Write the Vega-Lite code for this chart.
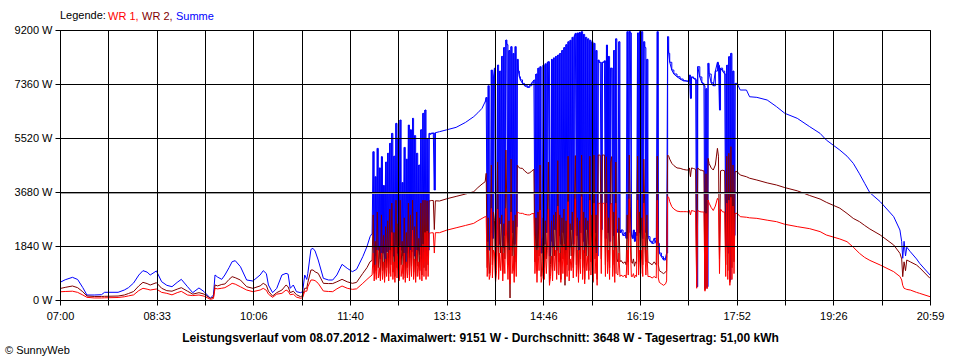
{
  "$schema": "https://vega.github.io/schema/vega-lite/v6.json",
  "width": 870,
  "height": 270,
  "autosize": "none",
  "padding": {"left": 60, "top": 30, "right": 30, "bottom": 60},
  "background": "white",
  "config": {
    "view": {"stroke": "black", "strokeWidth": 1},
    "font": "Liberation Sans"
  },
  "title": {"text": "© SunnyWeb", "orient": "bottom", "anchor": "start", "frame": "group", "dx": -55, "offset": 2, "fontSize": 11, "fontWeight": "normal", "color": "black", "font": "Liberation Sans"},
  "data": {"values": [
    {"t":0,"s":600,"b":390,"a":280},{"t":5,"s":690,"b":430,"a":290},{"t":12,"s":773,"b":477,"a":300},{"t":17,"s":700,"b":420,"a":260},{"t":22,"s":420,"b":280,"a":170},{"t":26,"s":170,"b":136,"a":91},{"t":33,"s":170,"b":120,"a":70},{"t":40,"s":180,"b":120,"a":70},{"t":43,"s":262,"b":125,"a":75},{"t":56,"s":262,"b":135,"a":85},{"t":62,"s":340,"b":170,"a":110},{"t":66,"s":420,"b":220,"a":140},{"t":71,"s":580,"b":290,"a":175},{"t":76,"s":850,"b":480,"a":320},{"t":80,"s":1000,"b":602,"a":398},{"t":84,"s":950,"b":560,"a":370},{"t":87,"s":852,"b":511,"a":340},{"t":93,"s":990,"b":590,"a":375},{"t":98,"s":624,"b":400,"a":260},{"t":103,"s":500,"b":318,"a":227},{"t":108,"s":453,"b":300,"a":175},{"t":113,"s":600,"b":370,"a":250},{"t":117,"s":704,"b":420,"a":295},{"t":123,"s":453,"b":300,"a":170},{"t":128,"s":250,"b":200,"a":150},{"t":134,"s":410,"b":250,"a":170},{"t":139,"s":284,"b":200,"a":130},{"t":145,"s":60,"b":57,"a":23},{"t":148,"s":170,"b":100,"a":50},{"t":149.5,"s":852,"b":511,"a":397},{"t":152,"s":780,"b":480,"a":380},{"t":156,"s":704,"b":530,"a":400},{"t":159,"s":852,"b":545,"a":420},{"t":163,"s":1100,"b":700,"a":500},{"t":166,"s":1306,"b":795,"a":568},{"t":169,"s":1340,"b":760,"a":540},{"t":174,"s":1136,"b":680,"a":450},{"t":180,"s":681,"b":454,"a":340},{"t":186,"s":647,"b":397,"a":284},{"t":193,"s":852,"b":480,"a":340},{"t":196,"s":999,"b":568,"a":397},{"t":199,"s":900,"b":500,"a":330},{"t":201,"s":511,"b":300,"a":200},{"t":205,"s":250,"b":136,"a":91},{"t":209,"s":397,"b":250,"a":200},{"t":214,"s":852,"b":340,"a":227},{"t":218,"s":908,"b":511,"a":340},{"t":220,"s":880,"b":450,"a":300},{"t":222,"s":397,"b":250,"a":180},{"t":225,"s":511,"b":300,"a":200},{"t":228,"s":284,"b":180,"a":100},{"t":232,"s":250,"b":113,"a":57},{"t":234,"s":284,"b":150,"a":80},{"t":236,"s":852,"b":400,"a":300},{"t":238,"s":700,"b":400,"a":300},{"t":239,"s":908,"b":600,"a":450},{"t":242,"s":1726,"b":1022,"a":681},{"t":244,"s":1760,"b":1022,"a":681},{"t":246,"s":1669,"b":960,"a":660},{"t":249,"s":1363,"b":908,"a":568},{"t":254,"s":738,"b":568,"a":306},{"t":259,"s":681,"b":560,"a":290},{"t":263,"s":681,"b":560,"a":284},{"t":267,"s":852,"b":620,"a":380},{"t":272,"s":1215,"b":704,"a":477},{"t":277,"s":1079,"b":620,"a":400},{"t":282,"s":965,"b":568,"a":363},{"t":286,"s":1045,"b":600,"a":380},{"t":292,"s":1476,"b":908,"a":568},{"t":296,"s":1817,"b":1100,"a":700},{"t":299,"s":2158,"b":1306,"a":795},{"t":301,"s":2271,"b":1350,"a":850},
    {"t":302,"s":5053,"b":2900,"a":1600},{"t":303,"s":1136,"b":900,"a":650},{"t":304,"s":4200,"b":2000,"a":1200},{"t":305,"s":1500,"b":1000,"a":700},{"t":306,"s":5167,"b":3000,"a":1700},{"t":307,"s":1700,"b":1100,"a":750},{"t":308,"s":4500,"b":1800,"a":1100},{"t":309,"s":1400,"b":800,"a":650},{"t":310,"s":4883,"b":2900,"a":1600},{"t":311,"s":1600,"b":1000,"a":700},{"t":312,"s":3900,"b":2200,"a":1300},{"t":313,"s":1300,"b":750,"a":600},{"t":314,"s":4700,"b":2500,"a":1400},{"t":315,"s":1650,"b":1100,"a":800},{"t":316,"s":5000,"b":2700,"a":1600},{"t":317,"s":1450,"b":900,"a":650},{"t":318,"s":5337,"b":3100,"a":1700},{"t":319,"s":1700,"b":1200,"a":800},{"t":320,"s":5678,"b":3300,"a":2300},{"t":321,"s":1500,"b":950,"a":700},{"t":322,"s":4900,"b":2300,"a":1300},{"t":323,"s":1350,"b":800,"a":600},{"t":324,"s":6019,"b":3400,"a":1850},{"t":325,"s":1600,"b":1100,"a":750},{"t":326,"s":5500,"b":2600,"a":1500},{"t":327,"s":1400,"b":700,"a":650},{"t":328,"s":6133,"b":3400,"a":1850},{"t":329,"s":1700,"b":1200,"a":800},{"t":330,"s":4000,"b":2000,"a":1200},{"t":331,"s":1500,"b":900,"a":700},{"t":332,"s":5200,"b":2800,"a":1600},{"t":333,"s":1250,"b":750,"a":600},{"t":334,"s":4800,"b":2300,"a":1300},{"t":335,"s":1600,"b":1100,"a":750},{"t":336,"s":5962,"b":3300,"a":1800},{"t":337,"s":1450,"b":850,"a":650},{"t":338,"s":5800,"b":2900,"a":1700},{"t":339,"s":1650,"b":1150,"a":800},{"t":340,"s":6190,"b":3400,"a":2380},{"t":341,"s":1500,"b":950,"a":700},{"t":342,"s":5600,"b":2500,"a":1400},{"t":343,"s":1350,"b":800,"a":600},{"t":344,"s":5000,"b":3000,"a":1700},{"t":345,"s":1700,"b":1150,"a":800},{"t":346,"s":4600,"b":2100,"a":1300},{"t":347,"s":1550,"b":1000,"a":700},{"t":348,"s":5800,"b":3300,"a":1800},{"t":349,"s":1400,"b":850,"a":650},{"t":350,"s":6360,"b":3400,"a":1900},{"t":351,"s":1650,"b":1100,"a":800},{"t":352,"s":6474,"b":3400,"a":2300},{"t":353,"s":1500,"b":1000,"a":700},{"t":354,"s":5500,"b":3380,"a":2350},{"t":355,"s":1700,"b":1200,"a":800},{"t":356,"s":5678,"b":3380,"a":2280},{"t":357,"s":5650,"b":3380,"a":2280},{"t":358,"s":5678,"b":3390,"a":2290},{"t":360,"s":5690,"b":3390,"a":2290},{"t":361,"s":3748,"b":2400,"a":1600},{"t":362,"s":5700,"b":3380,"a":2294},
    {"t":366,"s":5735,"b":3373,"a":2294},{"t":373,"s":5800,"b":3450,"a":2380},{"t":382,"s":5883,"b":3530,"a":2460},{"t":391,"s":6050,"b":3610,"a":2540},{"t":399,"s":6247,"b":3690,"a":2612},{"t":403,"s":6380,"b":3830,"a":2700},{"t":407,"s":6531,"b":3950,"a":2780},{"t":410,"s":6757,"b":4031,"a":2839},
    {"t":411,"s":6900,"b":4316,"a":2839},{"t":412,"s":2000,"b":1100,"a":800},{"t":413,"s":7300,"b":2800,"a":1700},{"t":414,"s":1700,"b":900,"a":700},{"t":415,"s":2300,"b":1300,"a":900},{"t":416,"s":7836,"b":4600,"a":3120},{"t":417,"s":2100,"b":1200,"a":750},{"t":418,"s":7600,"b":3000,"a":1700},{"t":419,"s":7900,"b":2700,"a":1600},{"t":420,"s":1500,"b":700,"a":600},{"t":421,"s":2400,"b":1500,"a":1000},{"t":422,"s":8007,"b":4700,"a":3100},{"t":423,"s":1900,"b":1100,"a":700},{"t":424,"s":7800,"b":2800,"a":1600},{"t":425,"s":2600,"b":1600,"a":1000},{"t":426,"s":8300,"b":2900,"a":1800},{"t":427,"s":1800,"b":900,"a":650},{"t":428,"s":8600,"b":2600,"a":1600},{"t":429,"s":2200,"b":1400,"a":900},{"t":430,"s":8858,"b":5110,"a":3120},{"t":431,"s":8700,"b":3000,"a":1700},{"t":432,"s":2000,"b":1200,"a":700},{"t":433,"s":8500,"b":2700,"a":1700},{"t":434,"s":1700,"b":68,"a":550},{"t":435,"s":8632,"b":4800,"a":3000},{"t":436,"s":2300,"b":1500,"a":900},{"t":437,"s":8400,"b":2700,"a":1500},{"t":438,"s":1900,"b":1000,"a":600},{"t":439,"s":8632,"b":2900,"a":1800},{"t":440,"s":2500,"b":1300,"a":800},{"t":441,"s":8200,"b":4600,"a":3000},{"t":442,"s":7800,"b":4550,"a":2980},{"t":443,"s":7608,"b":4500,"a":2960},
    {"t":444,"s":7500,"b":4490,"a":2953},{"t":446,"s":7381,"b":4486,"a":2953},{"t":448,"s":7300,"b":4400,"a":2920},{"t":451,"s":7245,"b":4316,"a":2900},{"t":453,"s":7300,"b":4330,"a":2900},{"t":455,"s":7400,"b":4400,"a":2940},{"t":457,"s":7495,"b":4450,"a":2950},
    {"t":458,"s":2200,"b":1300,"a":900},{"t":459,"s":7700,"b":2800,"a":1700},{"t":460,"s":1800,"b":1000,"a":600},{"t":461,"s":7900,"b":3000,"a":1700},{"t":462,"s":2400,"b":1500,"a":1000},{"t":463,"s":7949,"b":4600,"a":3066},{"t":464,"s":1600,"b":800,"a":600},{"t":465,"s":2100,"b":1300,"a":800},{"t":466,"s":8000,"b":2800,"a":1600},{"t":467,"s":1900,"b":1100,"a":700},{"t":468,"s":8050,"b":2700,"a":1800},{"t":469,"s":2300,"b":1400,"a":900},{"t":470,"s":8100,"b":2900,"a":1700},{"t":471,"s":8120,"b":4700,"a":3100},{"t":472,"s":1500,"b":600,"a":500},{"t":473,"s":2000,"b":1200,"a":800},{"t":474,"s":8200,"b":2700,"a":1500},{"t":475,"s":1800,"b":1000,"a":650},{"t":476,"s":8250,"b":2900,"a":1800},{"t":477,"s":2400,"b":1500,"a":1000},{"t":478,"s":8300,"b":3000,"a":1700},{"t":479,"s":1700,"b":900,"a":700},{"t":480,"s":8348,"b":4750,"a":3200},{"t":481,"s":2200,"b":1300,"a":850},{"t":482,"s":8400,"b":2900,"a":1600},{"t":483,"s":1900,"b":700,"a":600},{"t":484,"s":8500,"b":2800,"a":1800},{"t":485,"s":2300,"b":1400,"a":900},{"t":486,"s":8600,"b":3100,"a":1900},{"t":487,"s":1600,"b":500,"a":700},{"t":488,"s":8700,"b":2700,"a":1700},{"t":489,"s":2100,"b":1200,"a":800},{"t":490,"s":8800,"b":4900,"a":3350},{"t":491,"s":1800,"b":1000,"a":650},{"t":492,"s":8850,"b":2600,"a":1400},{"t":493,"s":2400,"b":1500,"a":1000},{"t":494,"s":8950,"b":3000,"a":1800},{"t":495,"s":1900,"b":1100,"a":750},{"t":496,"s":9000,"b":2900,"a":1900},{"t":497,"s":9086,"b":4920,"a":3450},{"t":498,"s":2200,"b":1200,"a":800},{"t":499,"s":9100,"b":2800,"a":1700},{"t":500,"s":1700,"b":900,"a":600},{"t":501,"s":9120,"b":2700,"a":1700},{"t":502,"s":2300,"b":1400,"a":900},{"t":503,"s":9143,"b":4940,"a":3520},{"t":504,"s":2000,"b":1100,"a":700},{"t":505,"s":9050,"b":3000,"a":1700},{"t":506,"s":1600,"b":700,"a":550},{"t":507,"s":8950,"b":2800,"a":1800},{"t":508,"s":2400,"b":1500,"a":1000},{"t":509,"s":8900,"b":2700,"a":1500},{"t":510,"s":1900,"b":1000,"a":700},{"t":511,"s":8850,"b":4900,"a":3400},{"t":512,"s":2200,"b":1300,"a":850},{"t":513,"s":8800,"b":2900,"a":1800},{"t":514,"s":1800,"b":600,"a":650},{"t":515,"s":8745,"b":4940,"a":3300},{"t":516,"s":2300,"b":1400,"a":900},{"t":517,"s":8500,"b":2900,"a":1600},{"t":518,"s":1500,"b":700,"a":500},
    {"t":519,"s":8177,"b":4940,"a":3294},{"t":520,"s":8098,"b":4940,"a":3294},{"t":521,"s":8098,"b":4930,"a":3294},{"t":522,"s":2400,"b":1400,"a":900},{"t":523,"s":8098,"b":4940,"a":3294},{"t":524,"s":8098,"b":4940,"a":3294},{"t":525,"s":8150,"b":4940,"a":3300},{"t":526,"s":2100,"b":1200,"a":800},{"t":527,"s":8688,"b":4880,"a":3300},{"t":528,"s":2300,"b":1300,"a":900},{"t":529,"s":8300,"b":2800,"a":1700},{"t":530,"s":2000,"b":1100,"a":700},{"t":531,"s":7900,"b":4700,"a":3250},{"t":532,"s":7894,"b":4885,"a":3300},{"t":533,"s":2200,"b":1200,"a":800},{"t":534,"s":8500,"b":3000,"a":1700},{"t":535,"s":1800,"b":900,"a":600},{"t":536,"s":8900,"b":4700,"a":3300},{"t":537,"s":2400,"b":1400,"a":900},{"t":538,"s":2300,"b":1300,"a":850},{"t":539,"s":8800,"b":2800,"a":1600},{"t":540,"s":2300,"b":1300,"a":800},{"t":541,"s":2385,"b":1350,"a":850},{"t":543,"s":2200,"b":1250,"a":800},{"t":545,"s":2300,"b":1300,"a":850},{"t":546,"s":2100,"b":1200,"a":750},{"t":547,"s":9143,"b":2900,"a":1700},{"t":548,"s":2300,"b":1300,"a":850},{"t":549,"s":9151,"b":4940,"a":3450},{"t":550,"s":9100,"b":3200,"a":1900},{"t":551,"s":2200,"b":1300,"a":800},{"t":552,"s":2100,"b":1250,"a":800},{"t":553,"s":2385,"b":1400,"a":900},{"t":554,"s":2000,"b":1150,"a":750},{"t":555,"s":2300,"b":1300,"a":850},{"t":556,"s":2200,"b":1250,"a":800},{"t":557,"s":9100,"b":4900,"a":3400},{"t":558,"s":2300,"b":1300,"a":850},{"t":559,"s":9143,"b":3000,"a":1700},{"t":560,"s":2400,"b":1400,"a":900},{"t":561,"s":9143,"b":2800,"a":1700},{"t":562,"s":2100,"b":1200,"a":800},{"t":563,"s":8800,"b":4800,"a":3300},{"t":564,"s":8600,"b":2900,"a":1700},{"t":565,"s":2300,"b":1300,"a":850},{"t":566,"s":8200,"b":2900,"a":1700},{"t":567,"s":2158,"b":1300,"a":800},{"t":569,"s":2000,"b":1250,"a":800},{"t":571,"s":1931,"b":1200,"a":750},{"t":573,"s":2100,"b":1300,"a":800},{"t":575,"s":1931,"b":1200,"a":750},{"t":576,"s":9143,"b":4900,"a":3400},{"t":577,"s":1931,"b":1200,"a":750},{"t":578,"s":1600,"b":1000,"a":600},{"t":580,"s":1476,"b":950,"a":550},{"t":582,"s":1363,"b":900,"a":500},{"t":584,"s":1450,"b":950,"a":550},{"t":585,"s":1600,"b":1000,"a":650},{"t":586,"s":8971,"b":4940,"a":3521},
    {"t":587,"s":8405,"b":4900,"a":3500},{"t":588,"s":8100,"b":4800,"a":3350},{"t":590,"s":7836,"b":4657,"a":3180},{"t":592,"s":7700,"b":4580,"a":3100},{"t":595,"s":7608,"b":4500,"a":3030},{"t":598,"s":7530,"b":4487,"a":3010},{"t":601,"s":7472,"b":4450,"a":3010},{"t":604,"s":7460,"b":4430,"a":3010},{"t":606,"s":7450,"b":4430,"a":3000},{"t":607,"s":7665,"b":4500,"a":3050},{"t":608,"s":6872,"b":4200,"a":2900},{"t":609,"s":7600,"b":4500,"a":3050},{"t":611,"s":7550,"b":4480,"a":3030},{"t":613,"s":7500,"b":4450,"a":3010},{"t":614,"s":454,"b":454,"a":400},{"t":615,"s":7949,"b":4500,"a":3050},{"t":617,"s":7600,"b":4429,"a":3010},{"t":619,"s":7400,"b":4420,"a":3000},{"t":620,"s":7381,"b":4400,"a":3000},{"t":621,"s":7300,"b":4400,"a":3000},{"t":622,"s":400,"b":340,"a":300},{"t":623,"s":7200,"b":4300,"a":2950},{"t":624,"s":454,"b":420,"a":380},{"t":625,"s":8064,"b":4827,"a":3407},{"t":626,"s":7700,"b":4650,"a":3300},{"t":628,"s":7400,"b":4500,"a":3150},{"t":630,"s":7300,"b":4429,"a":3050},{"t":632,"s":7800,"b":4600,"a":3200},{"t":634,"s":8100,"b":5168,"a":3464},{"t":635,"s":8000,"b":4900,"a":3400},{"t":636,"s":6473,"b":1400,"a":900},{"t":637,"s":7900,"b":4400,"a":3100},{"t":639,"s":7800,"b":4420,"a":3000},{"t":641,"s":7700,"b":4400,"a":3000},{"t":642,"s":1817,"b":1200,"a":800},{"t":643,"s":8000,"b":4900,"a":3300},{"t":644,"s":1600,"b":1000,"a":700},{"t":645,"s":8291,"b":5000,"a":3400},{"t":646,"s":681,"b":600,"a":500},{"t":647,"s":8405,"b":5224,"a":3500},{"t":648,"s":1800,"b":1100,"a":700},{"t":649,"s":7800,"b":4600,"a":3200},{"t":650,"s":2200,"b":1300,"a":900},{"t":651,"s":7381,"b":4373,"a":2953},
    {"t":653,"s":7381,"b":4373,"a":2953},{"t":656,"s":7155,"b":4259,"a":2839},{"t":662,"s":7155,"b":4200,"a":2820},{"t":665,"s":6926,"b":4150,"a":2800},{"t":672,"s":6905,"b":4088,"a":2782},{"t":682,"s":6814,"b":3990,"a":2720},{"t":691,"s":6587,"b":3918,"a":2669},{"t":699,"s":6361,"b":3830,"a":2580},{"t":711,"s":6190,"b":3720,"a":2500},{"t":723,"s":5905,"b":3560,"a":2430},{"t":733,"s":5678,"b":3440,"a":2330},{"t":739,"s":5451,"b":3330,"a":2215},{"t":752,"s":5110,"b":3130,"a":2080},{"t":759,"s":4900,"b":2950,"a":1987},{"t":765,"s":4657,"b":2780,"a":1800},{"t":771,"s":4300,"b":2669,"a":1590},{"t":776,"s":3976,"b":2540,"a":1450},{"t":781,"s":3657,"b":2420,"a":1350},{"t":791,"s":3350,"b":2215,"a":1192},{"t":804,"s":2839,"b":1874,"a":965},{"t":810,"s":2385,"b":1590,"a":800},{"t":811.7,"s":1987,"b":1400,"a":681},{"t":812.7,"s":1420,"b":795,"a":500},{"t":814,"s":2000,"b":1300,"a":398},{"t":815.4,"s":1500,"b":1000,"a":380},{"t":816.6,"s":1800,"b":1363,"a":360},{"t":820,"s":1646,"b":1300,"a":340},{"t":826,"s":1400,"b":1192,"a":260},{"t":829,"s":1250,"b":1100,"a":227},{"t":839,"s":852,"b":738,"a":113}
  ]},
  "layer": [
    {
      "encoding": {
        "x": {
          "field": "t", "type": "quantitative",
          "scale": {"domain": [0, 839], "nice": false, "zero": false},
          "axis": {
            "values": [0, 46.6111, 93.2222, 139.8333, 186.4444, 233.0556, 279.6667, 326.2778, 372.8889, 419.5, 466.1111, 512.7222, 559.3333, 605.9444, 652.5556, 699.1667, 745.7778, 792.3889, 839],
            "labelExpr": "['07:00','','08:33','','10:06','','11:40','','13:13','','14:46','','16:19','','17:52','','19:26','','20:59'][round(datum.value / 46.6111)]",
            "grid": true, "gridColor": "black", "gridOpacity": 1, "gridWidth": 1,
            "domainColor": "black", "tickColor": "black", "tickSize": 5, "tickWidth": 1,
            "labelColor": "black", "labelFontSize": 11, "labelFont": "Liberation Sans", "labelPadding": 5,
            "labelFlush": false, "labelOverlap": false, "zindex": 1,
            "title": "Leistungsverlauf vom 08.07.2012 - Maximalwert: 9151 W - Durchschnitt: 3648 W - Tagesertrag: 51,00 kWh",
            "titleFont": "Liberation Sans", "titleFontSize": 12, "titleFontWeight": "bold", "titleColor": "black",
            "titleX": 420, "titleY": 37, "titleAlign": "center", "titleBaseline": "middle"
          }
        },
        "y": {"field": "s", "type": "quantitative", "scale": {"domain": [0, 9200], "nice": false},
          "axis": {"values": [0, 1840, 3680, 5520, 7360, 9200], "labelExpr": "datum.value + ' W'", "title": null, "grid": true, "gridColor": "black", "gridOpacity": 1, "gridWidth": 1, "domainColor": "black", "tickColor": "black", "tickSize": 5, "labelColor": "black", "labelFontSize": 11, "labelFont": "Liberation Sans", "labelPadding": 3, "labelFlush": false, "labelOverlap": false, "zindex": 1}},
        "color": {"datum": "Summe", "type": "nominal",
          "scale": {"domain": ["WR 1", "WR 2", "Summe"], "range": ["#ff0000", "#800000", "#0000ff"]},
          "legend": {
            "orient": "none", "legendX": 0, "legendY": -19, "direction": "horizontal",
            "title": "Legende:", "titleOrient": "left", "titleFontSize": 11, "titleFontWeight": "normal", "titleColor": "black", "titleFont": "Liberation Sans", "titlePadding": 4, "titleBaseline": "middle",
            "symbolSize": 0, "symbolOpacity": 0, "symbolStrokeWidth": 0, "labelOffset": -13, "columnPadding": 3,
            "labelFontSize": 11, "labelFont": "Liberation Sans",
            "labelExpr": "datum.label == 'Summe' ? 'Summe' : datum.label + ','",
            "encode": {"labels": {"update": {"fill": {"scale": "color", "field": "value"}}}}
          }}
      },
      "layer": [
        {"mark": {"type": "line", "strokeWidth": 1}},
        {"transform": [{"filter": "datum.t >= 301 && datum.t <= 362"}], "mark": {"type": "line", "strokeWidth": 1, "interpolate": "step-after"}},
        {"transform": [{"filter": "datum.t >= 410 && datum.t <= 651"}], "mark": {"type": "line", "strokeWidth": 1, "interpolate": "step-after"}}
      ]
    },
    {
      "mark": {"type": "line", "strokeWidth": 1},
      "encoding": {
        "x": {"field": "t", "type": "quantitative", "scale": {"domain": [0, 839], "nice": false, "zero": false}},
        "y": {"field": "b", "type": "quantitative", "scale": {"domain": [0, 9200], "nice": false}},
        "color": {"datum": "WR 2", "type": "nominal"}
      }
    },
    {
      "mark": {"type": "line", "strokeWidth": 1},
      "encoding": {
        "x": {"field": "t", "type": "quantitative", "scale": {"domain": [0, 839], "nice": false, "zero": false}},
        "y": {"field": "a", "type": "quantitative", "scale": {"domain": [0, 9200], "nice": false}},
        "color": {"datum": "WR 1", "type": "nominal"}
      }
    },
    {
      "data": {"values": [{"avg": 3648}]},
      "mark": {"type": "rule", "color": "#a0a0a0", "strokeWidth": 2},
      "encoding": {
        "y": {"field": "avg", "type": "quantitative", "scale": {"domain": [0, 9200], "nice": false}}
      }
    }
  ]
}
